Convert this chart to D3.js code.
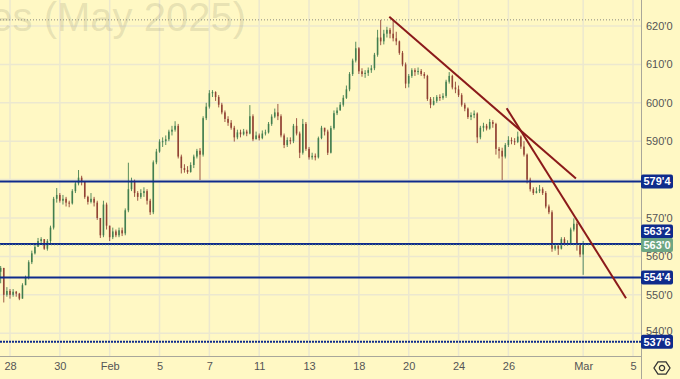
<!DOCTYPE html>
<html>
<head>
<meta charset="utf-8">
<script src="https://cdn.jsdelivr.net/npm/d3@7"></script>
<style>
  html, body { margin: 0; padding: 0; background: #fff8c4; }
  svg { display: block; }
</style>
</head>
<body>
<div id="chart"></div>
<script>
// ---- data ---------------------------------------------------------------
// trading days (index 0 = Jan 27) and the axis labels
const tickDays   = [1, 3, 5, 7, 9, 11, 13, 15, 17, 19, 21, 24, 26];
const tickLabels = ["28", "30", "Feb", "5", "7", "11", "13", "18", "20", "24", "26", "Mar", "5"];

// bars: 8 per trading day, first bar at day 0.5
const barsPerDay = 8, firstBar = 0.5, firstOpen = 555;
const closes = [
  556, 557, 550, 551, 550, 550.8, 550.3, 549, 552.5, 554.4,
  558.5, 560.8, 562.5, 564, 564.5, 562, 564, 567.5, 575, 576,
  574.5, 575, 574, 573.8, 577, 579, 580.5, 579.5, 575.5, 574.2,
  575, 574, 570, 565.5, 573.5, 568, 565, 566.5, 565.5, 566.8,
  566, 572, 577.5, 579.5, 576.5, 575.5, 576.5, 577, 574.5, 571.5,
  584.5, 587.3, 589.9, 590, 590.5, 592.5, 593, 594, 586, 583,
  582.5, 582, 583.8, 586, 587.5, 586.5, 596, 599, 602.5, 602.8,
  601.5, 599.5, 597.5, 595.8, 594.8, 593.5, 591, 592.3, 591.8, 592.5,
  592, 596.5, 590.5, 591.5, 590.8, 592, 592.3, 594.5, 596.4, 597.5,
  596.5, 591.5, 589, 590.3, 590, 594, 592, 587, 594.5, 588,
  585.8, 586.2, 585.8, 590.8, 593.5, 592.5, 587, 593.4, 597.3, 598,
  599.5, 601.3, 603.5, 607.5, 611, 614.2, 608.2, 607.5, 607.8, 608.5,
  609, 612.5, 617, 616, 618, 619, 618, 616.8, 616, 613,
  610, 605, 607, 608.5, 608, 608.3, 607.5, 607, 601, 599.5,
  600.5, 601.5, 601.3, 601.8, 605.5, 607, 604, 603.5, 602, 599.5,
  598.5, 596.3, 596.8, 597.2, 591, 593.5, 594, 593.3, 595, 594.5,
  588, 587.5, 586, 589, 590.3, 590, 589.8, 591.2, 588.6, 586.5,
  580, 577.5, 576.5, 577, 577.5, 576.5, 573, 571.5, 562, 562.8,
  562, 564.5, 563.2, 563.5, 567, 568.5, 563, 560.5, 563
];
const highs = [
  558, 557.5, 557, 552, 551.5, 551.5, 551, 550.5, 553, 555,
  559, 561.5, 563.5, 564.8, 565, 564.5, 564.5, 568, 575.5, 577.8,
  576.5, 576, 575.5, 574.5, 577.5, 579.5, 582.5, 581, 579.5, 575.8,
  576.5, 575.5, 574.5, 570, 574.5, 574, 568, 567.5, 567, 567.5,
  567.5, 572.5, 584.4, 580.5, 580, 577, 577.5, 578, 577.5, 575,
  585, 588, 590.5, 591, 591.5, 593, 594, 595.2, 594.5, 586.5,
  584, 583.5, 584.5, 586.5, 588, 588.2, 596.5, 600, 603.3, 603.3,
  603, 602, 600, 598, 596.5, 595.5, 594, 593, 593, 593.2,
  593, 599.4, 597, 592.5, 592, 592.8, 593, 595, 597, 598.5,
  599.7, 597, 592, 591, 591, 594.5, 596, 592.5, 595.8, 595,
  588.5, 587, 586.8, 591.2, 594, 593.5, 593, 594, 598, 598.8,
  600.2, 602, 604.5, 608, 611.5, 615.9, 614.5, 609, 608.5, 609.2,
  609.8, 613, 619, 621.6, 619, 619.8, 619.5, 621.6, 618.5, 616.2,
  613.5, 610.5, 607.5, 609, 609, 609.2, 608.8, 608, 607.3, 601.5,
  601.5, 602, 602.2, 602.5, 606, 608, 607.3, 605.5, 604.5, 602.5,
  600, 598.8, 597.5, 598, 597.5, 594, 594.8, 594.5, 595.8, 595.5,
  594.8, 588.5, 588.3, 589.5, 591.3, 591, 590.8, 592.5, 591.5, 590,
  586.8, 580.5, 578, 578, 578.6, 578, 577, 573.5, 572, 563.5,
  563.3, 565, 565, 564.2, 567.5, 569.9, 569, 563.5, 564
];
const lows = [
  554, 553, 548, 549.5, 549, 549.5, 549.5, 548.6, 549, 552.5,
  554, 558, 560.5, 562.5, 563, 561.7, 561.5, 563.5, 567, 574,
  574, 573.5, 573, 572.8, 573.5, 576.5, 578.5, 578.5, 575, 573.5,
  573.8, 573, 569.5, 564.8, 565, 567, 564, 564.5, 565, 565,
  565.3, 565.5, 571.5, 577, 575.5, 574.5, 575, 575.5, 573.5, 570.8,
  571, 584, 587, 588.5, 589, 590, 591.5, 592.5, 585.5, 581.6,
  581.8, 581.5, 581.8, 583, 585.5, 579.9, 586, 595.5, 598.5, 601.5,
  600.5, 598.8, 597, 595, 594, 593, 589.9, 590.5, 591, 591.5,
  591.3, 591.8, 590, 590.5, 590.2, 590.5, 591.5, 592, 594, 596,
  595.5, 591, 588.2, 588.5, 589.2, 589.5, 591.5, 585.6, 586.5, 587.5,
  585.2, 585.2, 585, 585.5, 590.5, 591.5, 586.4, 586.8, 593, 596.8,
  598, 599, 601, 603, 607, 610.5, 607.5, 606.8, 606.5, 607,
  607.8, 608.5, 612, 615, 615.2, 617, 616.8, 616, 615, 612.5,
  609.5, 603.8, 604, 606.5, 607, 607.3, 607, 606.3, 600.5, 598.6,
  599.3, 600, 600.5, 600.8, 601.3, 605, 603.5, 602.5, 601.5, 599,
  597.8, 595.8, 595.5, 596, 589.5, 590.5, 592.5, 592.8, 593, 593.5,
  586.5, 585.5, 579.9, 585.5, 588.5, 589.2, 589, 589.5, 588, 586,
  579, 576.9, 576, 576.4, 576.5, 576, 572.5, 571, 561.2, 561.5,
  560.4, 561.8, 562.8, 562.8, 563.2, 566.5, 561.5, 559.8, 555.2
];

// horizontal levels and trend lines drawn on the chart
const levels = [579.5, 563.25, 554.5, 537.75];
const trendLines = [
  { t0: 16.22, p0: 622.4, t1: 23.71, p1: 580.3 },
  { t0: 20.93, p0: 598.6, t1: 25.72, p1: 549.1 }
];
const gridPrices = [620, 610, 600, 590, 580, 570, 560, 550, 540];
const priceTicks = [620, 610, 600, 590, 570, 560, 550, 540]; // 580 sits under the 579'4 tag

// ---- layout -------------------------------------------------------------
const W = 680, H = 379;
const plotR = 641, plotB = 356;
const bg = "#fff8c4", grid = "#ece8cf", navy = "#0f2b8c", maroon = "#8b1a1a";
const upCol = "#3d7b4c", downCol = "#8e3d30";

const x = d3.scaleLinear().domain([1, 24]).range([10, 10 + 23 * 24.92]);
const y = d3.scaleLinear().domain([540, 620]).range([333.2, 26]);
const fmt = p => { const i = Math.floor(p + 1e-9); return `${i}'${Math.round((p - i) * 8)}`; };

const bars = closes.map((c, k) => ({
  t: firstBar + k / barsPerDay,
  o: k === 0 ? firstOpen : closes[k - 1],
  h: highs[k], l: lows[k], c
}));
const last = closes[closes.length - 1];

const svg = d3.select("#chart").append("svg")
  .attr("width", W).attr("height", H)
  .attr("viewBox", [0, 0, W, H])
  .style("font-family", "'Liberation Sans', Arial, sans-serif");

svg.append("rect").attr("width", W).attr("height", H).attr("fill", bg);
svg.append("defs").append("clipPath").attr("id", "plot")
  .append("rect").attr("width", plotR).attr("height", plotB);

const plot = svg.append("g").attr("clip-path", "url(#plot)");

// grid
plot.append("g").selectAll("line").data(tickDays).join("line")
  .attr("x1", d => x(d)).attr("x2", d => x(d))
  .attr("y1", 0).attr("y2", plotB)
  .attr("stroke", grid).attr("stroke-width", 1.5);
plot.append("g").selectAll("line").data(gridPrices).join("line")
  .attr("x1", 0).attr("x2", plotR)
  .attr("y1", d => y(d)).attr("y2", d => y(d))
  .attr("stroke", grid).attr("stroke-width", 1.5);

// watermark
plot.append("text")
  .attr("x", 246).attr("y", 31)
  .attr("text-anchor", "end")
  .attr("font-size", 40)
  .attr("fill", "rgba(110,110,90,0.17)")
  .text("Wheat Futures (May 2025)");

// high line (dotted)
plot.append("line")
  .attr("x1", 0).attr("x2", plotR)
  .attr("y1", y(d3.max(highs))).attr("y2", y(d3.max(highs)))
  .attr("stroke", "#8a8a80").attr("stroke-width", 1)
  .attr("stroke-dasharray", "1,2");

// candles
const cg = plot.append("g");
cg.selectAll("line").data(bars).join("line")
  .attr("x1", d => x(d.t)).attr("x2", d => x(d.t))
  .attr("y1", d => y(Math.max(d.h, d.o, d.c)))
  .attr("y2", d => y(Math.min(d.l, d.o, d.c)))
  .attr("stroke", d => d.c >= d.o ? upCol : downCol)
  .attr("stroke-width", 1)
  .attr("opacity", 0.85);
cg.selectAll("rect").data(bars).join("rect")
  .attr("x", d => x(d.t) - 0.8)
  .attr("width", 1.6)
  .attr("y", d => y(Math.max(d.o, d.c)))
  .attr("height", d => Math.max(1, Math.abs(y(d.o) - y(d.c))))
  .attr("fill", d => d.c >= d.o ? upCol : downCol)
  .attr("opacity", 0.9);

// level lines
plot.append("g").selectAll("line").data(levels).join("line")
  .attr("x1", 0).attr("x2", plotR)
  .attr("y1", d => y(d)).attr("y2", d => y(d))
  .attr("stroke", navy).attr("stroke-width", 2)
  .attr("stroke-dasharray", (d, i) => i === levels.length - 1 ? "2,1" : null);

// current price line
plot.append("line")
  .attr("x1", 0).attr("x2", plotR)
  .attr("y1", y(last)).attr("y2", y(last))
  .attr("stroke", "#6a9a78").attr("stroke-width", 1)
  .attr("stroke-dasharray", "1,2");

// trend lines
plot.append("g").selectAll("line").data(trendLines).join("line")
  .attr("x1", d => x(d.t0)).attr("y1", d => y(d.p0))
  .attr("x2", d => x(d.t1)).attr("y2", d => y(d.p1))
  .attr("stroke", maroon).attr("stroke-width", 2);

// axes frame
svg.append("line").attr("x1", plotR + 0.5).attr("x2", plotR + 0.5)
  .attr("y1", 0).attr("y2", H).attr("stroke", "#a9a79a");
svg.append("line").attr("x1", 0).attr("x2", plotR)
  .attr("y1", plotB + 0.5).attr("y2", plotB + 0.5).attr("stroke", "#a9a79a");

// price axis
svg.append("g")
  .attr("transform", `translate(${plotR + 1},0)`)
  .call(d3.axisRight(y).tickValues(priceTicks).tickFormat(fmt).tickSize(0).tickPadding(4))
  .call(g => g.select(".domain").remove())
  .call(g => g.selectAll("text").attr("fill", "#555").attr("font-size", 11)
    .attr("font-family", "'Liberation Sans', Arial, sans-serif"))
  .call(g => g.selectAll(".tick").filter(d => d === 540).select("text").attr("dy", "0.1em"));

// time axis
svg.append("g")
  .attr("transform", `translate(0,${plotB})`)
  .call(d3.axisBottom(x).tickValues(tickDays).tickFormat((d, i) => tickLabels[i]).tickSize(0).tickPadding(6))
  .call(g => g.select(".domain").remove())
  .call(g => g.selectAll("text").attr("fill", "#555").attr("font-size", 11)
    .attr("font-family", "'Liberation Sans', Arial, sans-serif"));

// price labels on the axis
const yCur = y(last);
const tags = levels.map(v => {
  let cy = y(v);
  if (Math.abs(cy - yCur) < 14) cy = yCur - 13.5;
  return { text: fmt(v), cy, fill: navy };
});
tags.push({ text: fmt(last), cy: yCur, fill: "#6ea683" });
const tg = svg.append("g").selectAll("g").data(tags).join("g")
  .attr("transform", d => `translate(${plotR},${d.cy})`);
tg.append("rect")
  .attr("x", 0).attr("y", -7).attr("width", 32).attr("height", 14)
  .attr("rx", 2).attr("fill", d => d.fill);
tg.append("text")
  .attr("x", 16).attr("dy", "0.36em")
  .attr("text-anchor", "middle")
  .attr("font-size", 11).attr("font-weight", "bold")
  .attr("fill", "#fff")
  .text(d => d.text);

// settings icon
const ic = svg.append("g").attr("transform", "translate(662,368)");
ic.append("path")
  .attr("d", d3.range(6).map((i, j) => {
    const a = Math.PI / 3 * i;
    return (j ? "L" : "M") + (8 * Math.cos(a)).toFixed(2) + "," + (7 * Math.sin(a)).toFixed(2);
  }).join("") + "Z")
  .attr("fill", "none").attr("stroke", "#333").attr("stroke-width", 1.3);
ic.append("circle").attr("r", 2.6).attr("fill", "none").attr("stroke", "#333").attr("stroke-width", 1.3);
</script>
</body>
</html>
